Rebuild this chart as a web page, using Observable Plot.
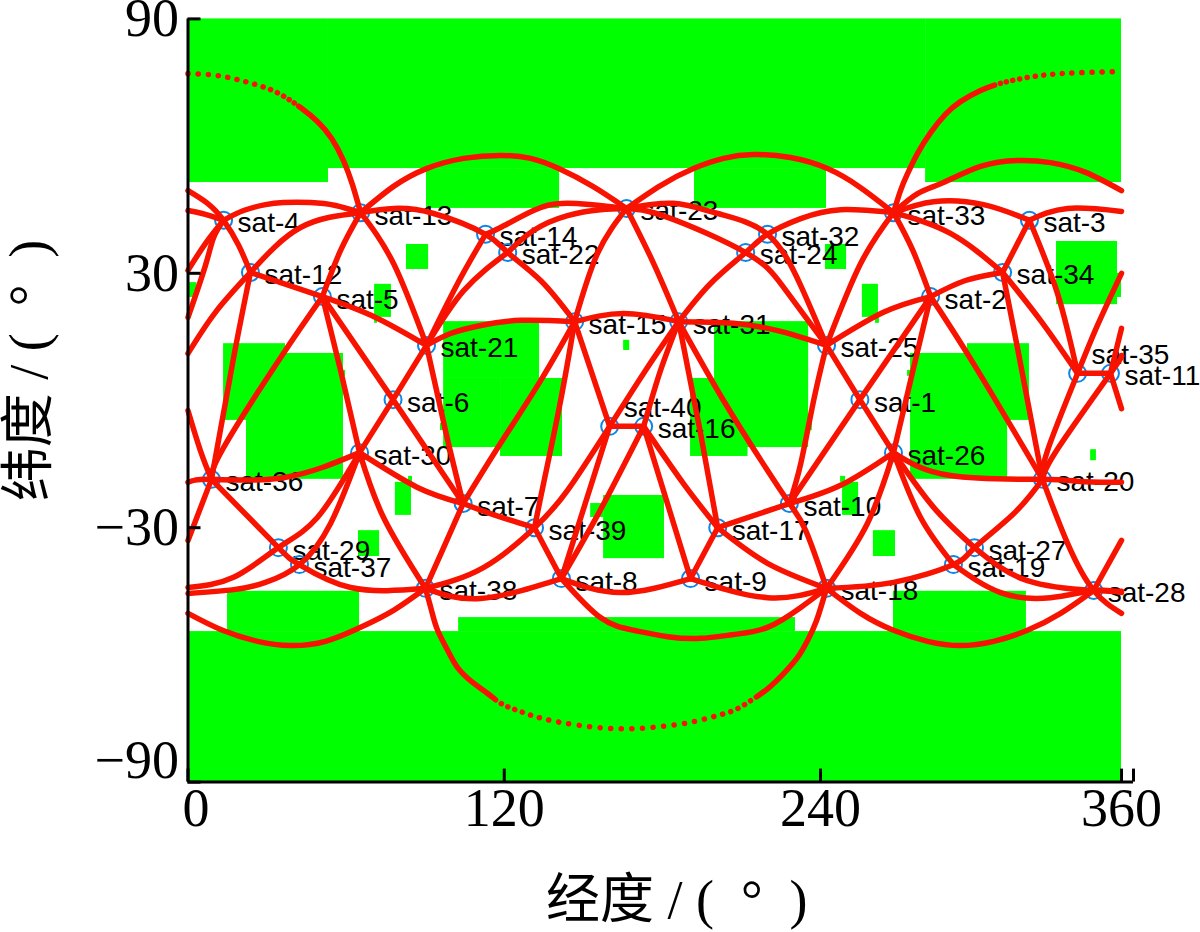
<!DOCTYPE html>
<html><head><meta charset="utf-8">
<style>html,body{margin:0;padding:0;background:#fff}svg{display:block}</style>
<script src="https://cdn.jsdelivr.net/npm/d3@7"></script>
<script src="https://cdn.jsdelivr.net/npm/@observablehq/plot@0.6"></script>
</head><body><div id="c"></div>
<script>
const satLon=[255.7,283.9,323.3,13.5,51.0,77.8,104.4,141.7,190.7,228.2,355.6,23.7,65.5,112.9,146.7,172.9,201.0,242.4,293.0,328.5,90.5,121.3,166.4,211.6,242.4,269.1,301.4,348.9,34.3,65.1,186.2,219.9,269.1,312.6,342.5,8.9,42.3,90.1,131.5,160.0];
const satLat=[0.2,24.5,42.5,42.5,24.5,0.2,-24.3,-42.0,-42.0,-24.3,6.4,30.2,44.3,39.2,18.6,-6.1,-30,-44.3,-38.7,-18.6,13.0,34.9,45.3,34.9,13.0,-12.3,-34.7,-44.8,-34.7,-12.3,18.6,39.2,44.3,30.2,6.4,-18.6,-38.7,-44.3,-30,-6.1];
const sats=satLon.map((lon,i)=>({name:`sat-${i+1}`,n:i+1,lon,lat:satLat[i]}));

// coverage cells: west, east, north, south
const coverage=[[0,53.3,90,51.4],[53.3,281.9,90,54.7],[281.9,360,90,51.4],[90.5,141,54.7,45.3],[192.2,242.4,54.7,45.3],
[82.9,91.3,36.8,30.9],[242,250.4,36.8,30.9],[0,3.4,27.8,24.3],[70.8,77.2,27.4,19.6],[70.8,71.9,19.6,18.2],
[256.7,263.1,27.4,19.6],[261.9,263.5,19.6,18.2],[13.5,37,13.4,-4.7],[22.2,59,11.1,-18.6],[59,59.8,7.1,5.7],
[97,133.4,18.6,5.2],[97,118.6,5.2,-11.1],[118.6,142.1,5.2,-13.2],[95.8,97,-5.4,-7.1],[165.3,167.6,14.2,11.8],
[199.8,235.5,18.6,-11.1],[190.7,212.5,5.2,-13.2],[235.5,236.9,-5.4,-7.1],[275.9,314.6,11.1,-18.6],[298.6,323.3,13.4,-4.7],[274.7,275.9,7.1,5.7],
[334.1,358.4,37.5,22.6],[358.4,360,30,24.3],[347.7,350,-11.6,-14.2],[248.8,255.2,-19.3,-27.1],[248,250,-17.9,-19.3],
[78.7,84.8,-19.3,-27.1],[83.7,85.2,-17.9,-19.3],[64.7,72.7,-30.7,-36.8],[261.1,269.9,-30.7,-36.8],
[157.7,180.8,-22.4,-37.3],[152.8,157.7,-24.3,-27.6],[15,65.1,-45,-54.5],[269.1,322.1,-45,-54.5],[102.7,230.5,-51.2,-54.5],[0,360,-54.5,-90]];

// links: a number is a satellite, a pair is a point read along the arc
const links=[
[13,[78,50.5],[90.5,54.7],[104.6,57.1],[118.6,57.8],[130,57.1],[140.7,54.7],[153.6,50.5],23],
[23,[179.3,50.7],[191.8,54.7],[203.2,57.1],[214.6,58],[228.6,57.3],[242.8,54.7],[256,50.2],33],
[33,[278.7,48.8],[289,51.4],[303.8,55.2],[318.5,56.6],[331.7,56.1],[345.7,53.8],[360,49.5]],
[[0,49.5],[7.4,46.5],4,[19.2,36.6],12],
[[0,44.8],[6.6,43.9],4],
[4,[21.1,44.8],[29.4,46.2],[36.2,46.7],[46.5,46.7],[56,46],13],
[13,[78,45.3],[93.2,44.1],14,22,[133.8,28.3],15],
[14,[118.6,40.8],[131.1,44.8],[144,46.5],23],
[22,[131.1,40.1],[144,43.6],[156.5,45],23],
[23,[184.2,46.5],[201,44.1],32,[232.5,27.1],25],
[23,[182,43.2],24,[226,26.7],25],
[31,[198.3,27.6],24,32,[232.5,42.9],[248,45],33],
[23,[155.4,34.7],15],
[23,[176.7,32.3],31],
[15,[165.3,20.5],31],
[21,[99.6,15.8],[111,17.7],[126.2,18.9],15],
[31,[207,18.2],[224.9,16.3],25],
[25,[265.1,20.8],2],
[2,[297.8,28.3],34],
[33,[276.8,35.4],2],
[33,[291.8,39.4],34],
[33,[285.1,46.9],[305,46.2],3],
[3,[338.5,45.3],[360,44.6]],
[3,34],
[3,[334.5,25.2],35],
[34,[327.7,18.9],35],
[34,[318.5,12.5],20],
[2,[301,8.7],20],
[35,[350.4,17.7],[360,30]],
[35,11],
[11,[360,17]],
[11,[360,-1.9]],
[20,[334.9,-11.1],11,[360,10.6]],
[20,[330.5,-11.8],35],
[25,[256,32.3],33],
[25,1,26],
[2,1,10],
[2,[275.9,4.7],26],
[25,[237.4,0],[232.5,-14.9],10],
[26,[248,-20],10],
[26,[291.8,-17.7],20,[343.7,-19.1],[360,-19.3]],
[26,[258.7,-29],18],
[26,[279.9,-27.6],19],
[26,[285.1,-25.2],27],
[27,[322.5,-42.5],28,[360,-45]],
[19,[311.8,-45.3],[331.7,-46.5],28,[360,-45.3]],
[18,[269.1,-42.9],19,27,[317,-26.7],20],
[20,[338.5,-33.7],28,[360,-50.2]],
[28,[360,-33]],
[18,[256,-50.2],[269.1,-54.2],[282.7,-56.8],[295.8,-57.8],[309,-56.8],[322.5,-54.2],[335.7,-50.2],28],
[31,[173.6,7.1],40],
[31,[179.3,7.1],16],
[31,[194.5,-7.8],17],
[31,[203.2,0],[219.9,-16.5],10],
[15,40],
[15,[141.4,0],[134.9,-19.6],39],
[15,[133.8,4.7],[118.6,-10.1],7],
[40,16],
[40,[144,-21.2],39,[112.1,-39.4],38],
[40,8],
[16,[156.5,-25.8],8],
[16,9],
[16,[188,-19.6],17],
[39,8],
[17,9],
[17,[219.9,-38.4],18],
[17,10],
[10,[234.4,-30.7],18],
[38,[111,-46.7],8],
[8,[164.1,-45.3],9],
[9,[219.9,-46.5],18],
[8,[156.5,-51.2],[169.1,-54.2],[182,-55.7],[194.5,-56.1],[207,-55.2],[219.9,-53.5],[232.5,-48.8],18],
[7,[116.7,-27.1],39],
[7,[97,-34.7],38],
[5,6,7],
[21,6,30],
[21,[97.7,-7.1],7],
[21,[102.3,27.6],14],
[21,[104.6,25.9],22],
[21,[78,32.3],13],
[21,[71.2,19.6],5,12],
[5,[57.9,35.4],13],
[5,[35.1,10.1],[13.5,-11.1],36],
[5,[57.9,7.1],30],
[12,[42.7,40.8],13],
[12,[10.4,20.8],[0,11.1]],
[12,[17.3,10.1],36],
[4,[6.6,37],[0,30.7]],
[4,[9.7,38.4],[6.6,31.8],[0,19.6]],
[[0,-2.4],[4.7,-11.8],36],
[[0,-19.3],36,[36.2,-18.2],30],
[36,[0,-33]],
[36,29,37,[61.7,-44.1],38],
[30,[49.1,-27.6],29,[17.3,-41.7],[0,-44.1]],
[30,[54.1,-29],37,[29.4,-42.9],[17.3,-44.6],[0,-45.5]],
[30,[74.2,-27.6],38],
[30,[87.1,-20.5],7],
[[0,-50.2],[13.1,-54.2],[26.4,-56.8],[38.9,-57.8],[52.2,-56.8],[65.5,-53.5],[78,-49.5],38]
];
// the three arcs over the poles, whose samples separate into dots
const polarNW=[[0,77.1],[10.4,76.7],[19.9,75.5],[30.2,73.6],[37,71.5],[42.7,69.1],[49.1,65.8],[54.5,61.8],[59,56.6],[62.4,50.9],13];
const polarNE=[33,[271.9,49.5],[274.7,53.5],[278.7,58.3],[283.9,63.2],[289.8,67.5],[295.8,70.5],[303.8,73.1],[311.8,74.8],[323.7,76.3],[335.7,77.1],[347.7,77.4],[360,77.6]];
const polarS=[38,[92.4,-49.5],[94.7,-54.2],[98.5,-58.9],[102.3,-63],[108,-66.5],[113.7,-69.1],[118.6,-71.4],[125,-73.1],[133.8,-74.9],[144,-76.2],[153.5,-77],[163,-77.4],[172.5,-77.3],[182,-76.7],[191.5,-75.8],[201,-74.3],[207.8,-72.9],[213.5,-70.8],[219.9,-68],[226,-64.4],[231.3,-60.6],[235.1,-56.6],[238.5,-51.9],18];
const rows=ls=>ls.flatMap((l,k)=>l.map(p=>typeof p==="number"?{k,lon:satLon[p-1],lat:satLat[p-1]}:{k,lon:p[0],lat:p[1]}));

const lonTicks=[120,240,360], latTicks=[90,30,-30], axisEnd=364.8;
const serif='"Liberation Serif","Noto Sans CJK SC",serif';
const red="#f81200", ring="#0a86e6";
// line style only: a run of dots with the given gaps between solid stretches
const dots=gaps=>gaps.map(g=>`0.1 ${g}`).join(" ");
const dashNW=`${dots([10,10,10,9.5,9.5,9,9,8.5,8,7.5,7,6.5,6,5.5])} 2000 0`;
const dashNE=`170 6 ${dots([6,6.5,7,7.5,8,8.5,9,9.5,9.5,10,10,10,10,10])}`;
const dashS=`136 7 ${dots([7,7.5,8,8.5,9,9.5,10,10,10.5,10.5,10.5,10.5,10.5,10.5,10.5,10.5,10.5,10.5,10.5,10,10,9.5,9,8.5,8,7.5,7,7])} 2000 0`;
const polar=(l,d)=>Plot.line(rows([l]),{x:"lon",y:"lat",curve:"natural",stroke:red,strokeWidth:5.5,strokeLinecap:"round",strokeDasharray:d});

const chart=Plot.plot({
  width:1200,height:932,marginLeft:187.5,marginRight:67,marginTop:18.4,marginBottom:150.4,
  style:{background:"#fff",color:"#000"},
  x:{type:"linear",domain:[0,240,360,axisEnd],range:[187.5,820,1121,1133],label:null},
  y:{type:"linear",domain:[-90,90],range:[781.6,18.4],label:null},
  marks:[
    Plot.rect(coverage,{x1:d=>d[0],x2:d=>d[1],y1:d=>d[2],y2:d=>d[3],fill:"#00ff00"}),
    Plot.text(sats.filter(d=>d.n!==40&&d.n!==35),{x:"lon",y:"lat",text:"name",textAnchor:"start",dx:14,dy:3,fontSize:28,fontFamily:"Liberation Sans",fill:"#000"}),
    Plot.text(sats.filter(d=>d.n===40||d.n===35),{x:"lon",y:"lat",text:"name",textAnchor:"start",dx:14,dy:-18,fontSize:28,fontFamily:"Liberation Sans",fill:"#000"}),
    Plot.dot(sats,{x:"lon",y:"lat",r:8.5,stroke:ring,strokeWidth:2,fill:"none"}),
    Plot.line(rows(links),{x:"lon",y:"lat",z:"k",curve:"natural",stroke:red,strokeWidth:5.5,strokeLinecap:"round"}),
    polar(polarNW,dashNW),polar(polarNE,dashNE),polar(polarS,dashS),
    Plot.ruleX([0],{y1:-90,y2:90,stroke:"#000",strokeWidth:3}),
    Plot.ruleY([-90],{x1:0,x2:axisEnd,stroke:"#000",strokeWidth:3}),
    Plot.axisY({ticks:[...latTicks,-90],anchor:"left",tickSize:-13,strokeWidth:3,stroke:"#000",text:null,label:null}),
    Plot.axisX({ticks:[0,...lonTicks,axisEnd],anchor:"bottom",tickSize:-13,strokeWidth:3,stroke:"#000",text:null,label:null}),
    Plot.axisY({ticks:latTicks,anchor:"left",tickSize:0,tickPadding:9,tickFormat:d3.format("d"),fontSize:54,fontFamily:serif,label:null}),
    Plot.axisY({ticks:[-90],anchor:"left",tickSize:0,tickPadding:9,dy:-21,tickFormat:d3.format("d"),fontSize:54,fontFamily:serif,label:null}),
    Plot.axisX({ticks:lonTicks,anchor:"bottom",tickSize:0,tickPadding:6,tickFormat:d3.format("d"),fontSize:54,fontFamily:serif,label:null}),
    Plot.axisX({ticks:[0],anchor:"bottom",tickSize:0,tickPadding:6,dx:8,tickFormat:d3.format("d"),fontSize:54,fontFamily:serif,label:null}),
    Plot.text(["经度 / (\u2002°\u2002)"],{frameAnchor:"bottom",lineAnchor:"middle",dx:16,dy:119,fontSize:54,fontFamily:serif,fill:"#000"}),
    Plot.text(["纬度 / (\u2002°\u2002)"],{frameAnchor:"left",textAnchor:"middle",lineAnchor:"middle",rotate:-90,dx:-158,dy:-30,fontSize:54,fontFamily:serif,fill:"#000"})
  ]
});
document.getElementById("c").append(chart);
</script></body></html>
